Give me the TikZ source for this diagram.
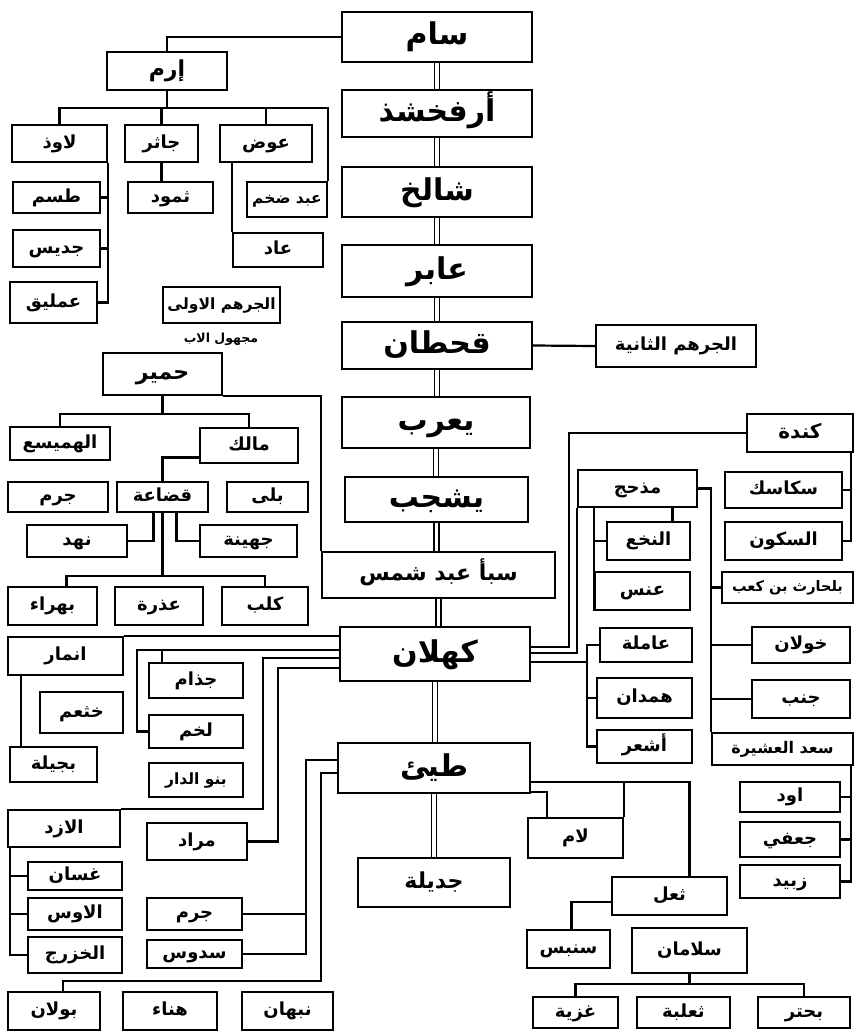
\documentclass[tikz,border=0pt]{standalone}
\usepackage{fontspec}
\newfontfamily\arabicfont[Script=Arabic]{DejaVu Sans}
\TeXXeTstate=1
\usetikzlibrary{calc}

\tikzset{
  tribe/.style={draw, line width=2.4pt, inner sep=0pt,
    font=\arabicfont\bfseries\fontsize{18}{20}\selectfont,
    text height=13.8pt, text depth=4.2pt},
  bigtribe/.style={font=\arabicfont\bfseries\fontsize{30}{34}\selectfont,
    text height=23pt, text depth=7pt},
  midtribe/.style={font=\arabicfont\bfseries\fontsize{22}{26}\selectfont,
    text height=16.9pt, text depth=5.1pt},
  smalltribe/.style={font=\arabicfont\bfseries\fontsize{15.5}{17}\selectfont,
    text height=11.9pt, text depth=3.6pt},
  link/.style={line width=2.2pt},
  spine/.style={double, double distance=3.5pt, line width=1.6pt},
}
% a box from its corners: name, x1, y1, x2, y2, text
\newcommand{\nbox}[7][]{%
  \node[tribe,#1,minimum width={#5-#3},minimum height={#6-#4}]
    (#2) at ({(#3+#5)/2},{(#4+#6)/2}) {#7};}

\begin{document}
\begin{tikzpicture}[x=1pt,y=-1pt]
\useasboundingbox (0,0) rectangle (856,1033);

% main line
\nbox[bigtribe]{sam}{342}{12}{532}{62}{\beginR سام\endR}
\nbox[bigtribe]{arfa}{342}{90}{532}{137}{\beginR أرفخشذ\endR}
\nbox[bigtribe]{shalikh}{342}{167}{532}{217}{\beginR شالخ\endR}
\nbox[bigtribe]{abir}{342}{245}{532}{297}{\beginR عابر\endR}
\nbox[bigtribe]{qahtan}{342}{322}{532}{369}{\beginR قحطان\endR}
\nbox{jurhum2}{596}{325}{756}{367}{\beginR الجرهم الثانية\endR}
\nbox[bigtribe]{yarub}{342}{397}{530}{448}{\beginR يعرب\endR}
\nbox[bigtribe]{yashjub}{345}{477}{528}{522}{\beginR يشجب\endR}
\nbox[midtribe]{saba}{322}{552}{555}{598}{\beginR سبأ عبد شمس\endR}
\nbox[bigtribe]{kahlan}{340}{627}{530}{681}{\beginR كهلان\endR}
\nbox[bigtribe]{tayy}{338}{743}{530}{793}{\beginR طيئ\endR}
\nbox[midtribe]{jadila}{358}{858}{510}{907}{\beginR جديلة\endR}

% Iram
\nbox[midtribe]{iram}{107}{52}{227}{90}{\beginR إرم\endR}
\nbox{lawdh}{12}{125}{107}{162}{\beginR لاوذ\endR}
\nbox{jathir}{125}{125}{198}{162}{\beginR جاثر\endR}
\nbox{awd}{220}{125}{312}{162}{\beginR عوض\endR}
\nbox{tasm}{13}{182}{100}{213}{\beginR طسم\endR}
\nbox{thamud}{128}{182}{213}{213}{\beginR ثمود\endR}
\nbox[smalltribe]{abdakhm}{247}{182}{327}{217}{\beginR عبد ضخم\endR}
\nbox{jadis}{13}{230}{100}{267}{\beginR جديس\endR}
\nbox{ad}{233}{233}{323}{267}{\beginR عاد\endR}
\nbox{amliq}{10}{282}{97}{323}{\beginR عمليق\endR}

% Himyar
\nbox[smalltribe]{jurhum1}{163}{287}{280}{323}{\beginR الجرهم الاولى\endR}
\node[font=\arabicfont\bfseries\fontsize{12.5}{14}\selectfont] (jurhumnote) at (221,339) {\beginR مجهول الاب\endR};
\nbox[midtribe]{himyar}{103}{353}{222}{395}{\beginR حمير\endR}
\nbox{hamaysa}{10}{427}{110}{460}{\beginR الهميسع\endR}
\nbox{malik}{200}{428}{298}{463}{\beginR مالك\endR}
\nbox{jarm1}{8}{482}{108}{512}{\beginR جرم\endR}
\nbox{qudaa}{117}{482}{208}{512}{\beginR قضاعة\endR}
\nbox{bali}{227}{482}{308}{512}{\beginR بلى\endR}
\nbox{nahd}{27}{525}{127}{557}{\beginR نهد\endR}
\nbox{juhayna}{200}{525}{297}{557}{\beginR جهينة\endR}
\nbox{bahra}{8}{587}{97}{625}{\beginR بهراء\endR}
\nbox{udhra}{115}{587}{203}{625}{\beginR عذرة\endR}
\nbox{kalb}{222}{587}{308}{625}{\beginR كلب\endR}

% west of Kahlan and Tayy
\nbox{anmar}{8}{637}{123}{675}{\beginR انمار\endR}
\nbox{khatham}{40}{692}{123}{733}{\beginR خثعم\endR}
\nbox{bajila}{10}{747}{97}{782}{\beginR بجيلة\endR}
\nbox{judham}{149}{663}{243}{698}{\beginR جذام\endR}
\nbox{lakhm}{149}{715}{243}{748}{\beginR لخم\endR}
\nbox[smalltribe]{banudar}{149}{763}{243}{797}{\beginR بنو الدار\endR}
\nbox{azd}{8}{810}{120}{847}{\beginR الازد\endR}
\nbox{murad}{147}{823}{247}{860}{\beginR مراد\endR}
\nbox{ghassan}{28}{862}{122}{890}{\beginR غسان\endR}
\nbox{aws}{28}{898}{122}{930}{\beginR الاوس\endR}
\nbox{khazraj}{28}{937}{122}{973}{\beginR الخزرج\endR}
\nbox{jarm2}{147}{898}{242}{930}{\beginR جرم\endR}
\nbox{sadus}{147}{940}{242}{968}{\beginR سدوس\endR}
\nbox{bawlan}{8}{992}{100}{1030}{\beginR بولان\endR}
\nbox{hina}{123}{992}{217}{1030}{\beginR هناء\endR}
\nbox{nabhan}{242}{992}{333}{1030}{\beginR نبهان\endR}

% east of Kahlan
\nbox[font=\arabicfont\bfseries\fontsize{20}{22}\selectfont,text height=15.3pt,text depth=4.7pt]{kinda}{747}{414}{853}{452}{\beginR كندة\endR}
\nbox{madhhij}{578}{470}{697}{507}{\beginR مذحج\endR}
\nbox{sakasik}{725}{472}{842}{508}{\beginR سكاسك\endR}
\nbox{sakun}{725}{522}{842}{560}{\beginR السكون\endR}
\nbox{nakha}{607}{522}{690}{560}{\beginR النخع\endR}
\nbox{ans}{595}{572}{690}{610}{\beginR عنس\endR}
\nbox[font=\arabicfont\bfseries\fontsize{14.5}{16}\selectfont,text height=11.1pt,text depth=3.4pt]{harith}{722}{572}{853}{603}{\beginR بلحارث بن كعب\endR}
\nbox{amila}{600}{628}{692}{662}{\beginR عاملة\endR}
\nbox{hamdan}{597}{678}{692}{718}{\beginR همدان\endR}
\nbox{ashar}{597}{730}{692}{763}{\beginR أشعر\endR}
\nbox{khawlan}{752}{627}{850}{663}{\beginR خولان\endR}
\nbox{janb}{752}{680}{850}{718}{\beginR جنب\endR}
\nbox[font=\arabicfont\bfseries\fontsize{16}{18}\selectfont,text height=12.3pt,text depth=3.7pt]{saad}{712}{733}{853}{765}{\beginR سعد العشيرة\endR}
\nbox{awd2}{740}{782}{840}{812}{\beginR اود\endR}
\nbox{jufi}{740}{822}{840}{857}{\beginR جعفي\endR}
\nbox{zubayd}{740}{865}{840}{898}{\beginR زبيد\endR}

% east of Tayy
\nbox{lam}{528}{818}{623}{858}{\beginR لام\endR}
\nbox{thual}{612}{877}{727}{915}{\beginR ثعل\endR}
\nbox{sinbis}{527}{930}{610}{968}{\beginR سنبس\endR}
\nbox{salaman}{632}{928}{747}{973}{\beginR سلامان\endR}
\nbox{ghaziyya}{533}{997}{618}{1028}{\beginR غزية\endR}
\nbox{thalaba}{637}{997}{730}{1028}{\beginR ثعلبة\endR}
\nbox{buhtur}{758}{997}{850}{1028}{\beginR بحتر\endR}

% double line down the middle
\foreach \a/\b in {sam/arfa,arfa/shalikh,shalikh/abir,abir/qahtan,qahtan/yarub,
    yarub/yashjub,yashjub/saba,saba/kahlan,kahlan/tayy,tayy/jadila}
  \draw[spine] (\a.south) -- (\a.south|-\b.north);
\draw[link] (qahtan.east) -- (jurhum2.west);

% Iram's line
\draw[link] (sam.west) -| (iram.north);
\coordinate (iramBar) at ($(iram.south)+(0,17)$);
\draw[link] (iram.south) -- (iramBar);
\draw[link] (lawdh.north) |- (iramBar) -| (abdakhm.north east);
\draw[link] (jathir.north) -- (jathir.north|-iramBar);
\draw[link] (awd.north) -- (awd.north|-iramBar);
\draw[link] (jathir.south) -- (jathir.south|-thamud.north);
\draw[link] ($(awd.south west)+(13,0)$) -- (ad.north west);
\draw[link] (lawdh.south east) |- (amliq.east);
\foreach \t in {tasm,jadis} \draw[link] (\t.east) -- (\t.east-|lawdh.east);

% Himyar's line
\coordinate (himyarBar) at ($(himyar.south)+(0,18)$);
\draw[link] (himyar.south) -- (himyarBar);
\draw[link] (hamaysa.north) |- (himyarBar) -| (malik.north);
\draw[link] (himyar.south east) -| (saba.north west);
\draw[link] ($(malik.west)+(0,12)$) -| (qudaa.north);
\draw[link] ($(qudaa.south)+(-9,0)$) |- (nahd.east);
\draw[link] ($(qudaa.south)+(14,0)$) |- (juhayna.west);
\coordinate (qudaaBar) at ($(qudaa.south)+(0,63)$);
\draw[link] (qudaa.south) -- (qudaaBar);
\draw[link] ($(bahra.north)+(14,0)$) |- (qudaaBar) -| (kalb.north);

% Kahlan, west side
\coordinate (kahW1) at ($(kahlan.west)+(0,-4)$);
\draw[link] (anmar.north east) -- (anmar.north east-|kahlan.west);
\draw[link] (kahW1) -| ($(lakhm.west)+(-11,0)$) -- (lakhm.west);
\coordinate (judhamTop) at ($(judham.north west)+(14,0)$);
\draw[link] (judhamTop) -- (judhamTop|-kahW1);
\draw[link] ($(kahlan.west)+(0,4)$) -| ($(azd.north east)+(142,0)$) -- (azd.north east);
\draw[link] ($(kahlan.west)+(0,14)$) -| ($(murad.east)+(30,0)$) -- (murad.east);
\draw[link] ($(anmar.south west)+(14,0)$) -- ($(bajila.north west)+(12,0)$);
\coordinate (azdX) at ($(azd.south west)+(3,0)$);
\draw[link] (azdX) |- (khazraj.west);
\foreach \t in {ghassan,aws} \draw[link] (\t.west) -- (\t.west-|azdX);

% Tayy, west side
\draw[link] ($(tayy.west)+(0,-8)$) -| ($(sadus.east)+(63,0)$) -- (sadus.east);
\draw[link] (jarm2.east) -- ++(63,0);
\draw[link] ($(tayy.west)+(0,5)$) -| ($(nabhan.north west)+(80,-10)$) -| ($(bawlan.north)+(9,0)$);

% Tayy, east side
\coordinate (tayyE1) at ($(tayy.east)+(0,14)$);
\draw[link] (tayyE1) -| ($(thual.north)+(20,0)$);
\draw[link] (lam.north east) -- (lam.north east|-tayyE1);
\draw[link] ($(tayy.east)+(0,24)$) -| ($(lam.north west)+(20,0)$);
\draw[link] ($(thual.west)+(0,6)$) -| ($(sinbis.north)+(3,0)$);
\coordinate (salBar) at ($(salaman.south)+(0,10)$);
\draw[link] (salaman.south) -- (salBar);
\draw[link] (ghaziyya.north) |- (salBar) -| (buhtur.north);

% Kahlan, east side
\draw[link] ($(kahlan.east)+(0,-7)$) -| ($(kinda.west)+(-177,0)$) -- (kinda.west);
\draw[link] ($(kahlan.east)+(0,-1)$) -| (madhhij.south west);
\coordinate (amilaX) at ($(ashar.west)+(-9,0)$);
\draw[link] (amila.west) -| (amilaX) -- (ashar.west);
\draw[link] (hamdan.west) -- (hamdan.west-|amilaX);
\coordinate (kahE3) at ($(kahlan.east)+(0,8)$);
\draw[link] (kahE3) -- (kahE3-|amilaX);

% Kinda
\coordinate (kindaX) at ($(kinda.south east)+(-3,0)$);
\draw[link] (kindaX) |- (sakun.east);
\draw[link] (sakasik.east) -- (sakasik.east-|kindaX);

% Madhhij
\draw[link] ($(madhhij.south west)+(17,0)$) -- (ans.south west);
\draw[link] (nakha.west) -- (nakha.west-|ans.west);
\coordinate (nakhaTop) at ($(nakha.north)+(24,0)$);
\draw[link] (nakhaTop) -- (nakhaTop|-madhhij.south);
\draw[link] (madhhij.east) -| (saad.north west);
\foreach \t in {harith,khawlan,janb} \draw[link] (\t.west) -- (\t.west-|saad.west);
\coordinate (saadX) at ($(saad.south east)+(-3,0)$);
\draw[link] (saadX) |- (zubayd.east);
\foreach \t in {awd2,jufi} \draw[link] (\t.east) -- (\t.east-|saadX);
\end{tikzpicture}
\end{document}
